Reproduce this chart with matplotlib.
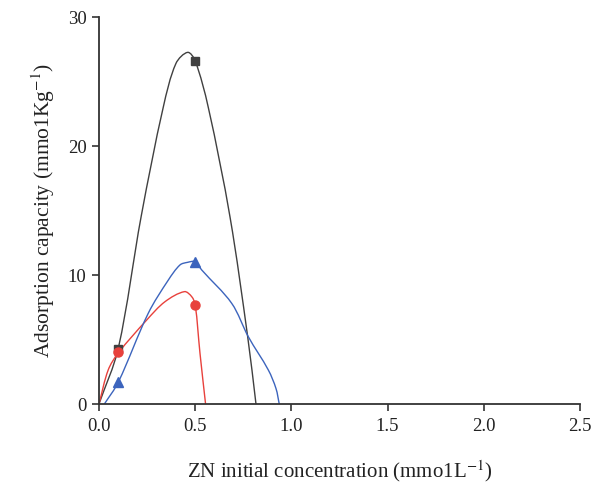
import matplotlib
matplotlib.use("Agg")
import numpy as np
import matplotlib.pyplot as plt
from matplotlib.path import Path
from matplotlib.patches import PathPatch

plt.rcParams["font.family"] = ["Liberation Serif", "DejaVu Serif"]
plt.rcParams["mathtext.fontset"] = "stix"

# measured points (markers)
marker_x = [0.1, 0.5]
black_pts = [4.3, 26.6]
red_pts = [4.0, 7.7]
blue_pts = [1.7, 11.0]

# smoothed curves
black_x = [0.0, 0.1, 0.22, 0.334, 0.40, 0.461, 0.5, 0.568, 0.681, 0.773, 0.816]
black_y = [0.0, 4.3, 14.6, 23.0, 26.4, 27.26, 26.6, 23.0, 14.5, 5.2, 0.0]

red_x = [0.0, 0.048, 0.1, 0.248, 0.343, 0.444, 0.482, 0.5, 0.525, 0.554]
red_y = [0.0, 2.64, 3.95, 6.51, 7.93, 8.71, 8.32, 7.7, 3.93, 0.0]

blue_x = [0.028, 0.1, 0.256, 0.36, 0.421, 0.46, 0.5, 0.534, 0.69, 0.776, 0.88, 0.92, 0.937]
blue_y = [0.0, 1.68, 7.03, 9.6, 10.78, 10.98, 11.03, 10.39, 7.8, 5.22, 2.64, 1.2, 0.0]

c_black = "#404040"
c_red = "#e8413c"
c_blue = "#3c64bd"


def smooth_path(xs, ys, sx=192.4, sy=12.9):
    # cubic Bezier through the traced points, chord-length tangents (smoothed line look)
    p = np.column_stack([xs, ys]).astype(float)
    d = np.hypot(np.diff(p[:, 0]) * sx, np.diff(p[:, 1]) * sy)
    t = np.concatenate([[0], np.cumsum(d)])
    n = len(p)
    m = np.zeros_like(p)
    for i in range(n):
        a = max(i - 1, 0)
        b = min(i + 1, n - 1)
        m[i] = (p[b] - p[a]) / (t[b] - t[a])
    verts = [tuple(p[0])]
    codes = [Path.MOVETO]
    for i in range(n - 1):
        h = t[i + 1] - t[i]
        verts += [tuple(p[i] + m[i] * h / 3), tuple(p[i + 1] - m[i + 1] * h / 3),
                  tuple(p[i + 1])]
        codes += [Path.CURVE4] * 3
    return Path(verts, codes)


fig = plt.figure(figsize=(5.92, 4.90), dpi=100)
ax = fig.add_axes([0.1672, 0.1755, 0.8125, 0.7898])

for xs, ys, col in [(black_x, black_y, c_black), (red_x, red_y, c_red),
                    (blue_x, blue_y, c_blue)]:
    ax.add_patch(PathPatch(smooth_path(xs, ys), facecolor="none", edgecolor=col,
                           lw=1.0, transform=ax.transData))

ax.plot(marker_x, black_pts, ls="none", marker="s", ms=6, color=c_black, clip_on=False)
ax.plot(marker_x, red_pts, ls="none", marker="o", ms=6.5, color=c_red, clip_on=False)
ax.plot(marker_x, blue_pts, ls="none", marker="^", ms=6.5, color=c_blue, clip_on=False)

ax.set_xlim(0, 2.5)
ax.set_ylim(0, 30)
ax.set_xticks([0.0, 0.5, 1.0, 1.5, 2.0, 2.5])
ax.set_xticklabels(["0.0", "0.5", "1.0", "1.5", "2.0", "2.5"])
ax.set_yticks([0, 10, 20, 30])

for side in ["top", "right"]:
    ax.spines[side].set_visible(False)
for side in ["left", "bottom"]:
    ax.spines[side].set_color("#333333")
    ax.spines[side].set_linewidth(1.3)

ax.tick_params(direction="out", length=5, width=1.2, color="#333333",
               labelsize=13.5, labelcolor="#222222")
ax.tick_params(axis="x", pad=5)
ax.tick_params(axis="y", pad=4)

ax.set_xlabel(r"ZN initial concentration (mmo1L$^{-1}$)", fontsize=15,
              color="#222222", labelpad=17)
ax.set_ylabel(r"Adsorption capacity (mmo1Kg$^{-1}$)", fontsize=15.5,
              color="#222222", labelpad=8)

plt.savefig("out.png", dpi=100)
